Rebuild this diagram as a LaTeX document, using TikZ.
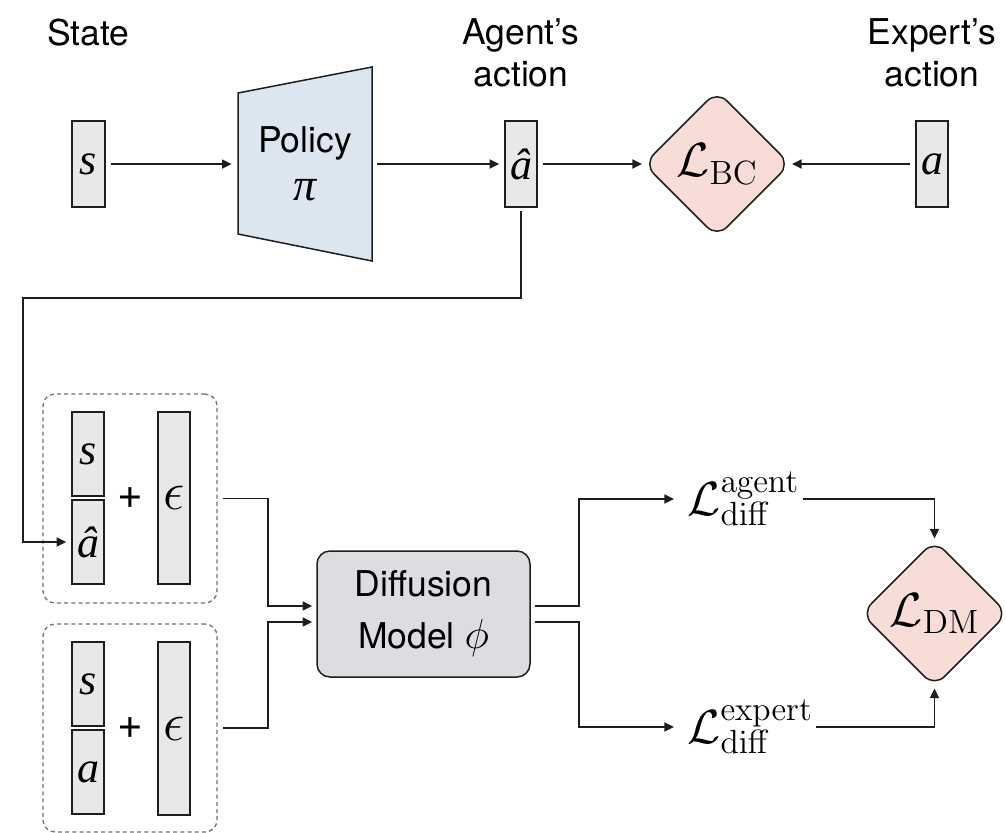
\documentclass[tikz,border=0pt]{standalone}
\usepackage{fix-cm}
\usepackage[no-math]{fontspec}
\newfontfamily\hv{TeX Gyre Heros}
\newfontfamily\tms{Liberation Serif}
\usetikzlibrary{shapes.geometric,arrows.meta,calc}
\definecolor{bd}{HTML}{1E1E1E}
\definecolor{boxfill}{HTML}{E8E8E8}
\definecolor{trapfill}{HTML}{DCE6F0}
\definecolor{diafill}{HTML}{F8DCD8}
\definecolor{dmfill}{HTML}{DCDDE0}
\definecolor{dashc}{HTML}{707070}
\begin{document}
\begin{tikzpicture}[x=0.5pt,y=-0.5pt,
  vec/.style={draw=bd, fill=boxfill, line width=0.75pt, inner sep=0pt, minimum width=16pt, font=\tms\itshape\fontsize{22}{26}\selectfont},
  lab/.style={font=\hv\fontsize{17.75}{21}\selectfont, align=center, inner sep=0pt},
  plussign/.style={font=\hv\fontsize{22}{26}\selectfont, inner sep=0pt},
  loss/.style={shape=diamond, draw=bd, fill=diafill, line width=0.75pt, rounded corners=7pt, minimum width=73.3pt, minimum height=73.3pt, inner sep=0pt, font=\fontsize{24}{28}\selectfont},
  grp/.style={draw=dashc, dash pattern=on 2pt off 1.6pt, line width=0.65pt, rounded corners=6pt, minimum width=87pt, inner sep=0pt},
  lossterm/.style={anchor=west, inner sep=0pt, font=\fontsize{24}{28}\selectfont},
  arr/.style={-{Triangle[length=4.8pt,width=4.5pt]}, line width=0.85pt, draw=bd, shorten <=2.5pt, shorten >=2.5pt}
]
\useasboundingbox (0,0) rectangle (1006,832);

% labels
\node[lab, anchor=base] (tstate) at (88.5,45) {State};
\node[lab] (tagent) at (521,53) {Agent’s\\action};
\node[lab] (texpert) at (932,53) {Expert’s\\action};

% top row
\node[vec, minimum height=43pt, minimum width=16.5pt] (s1) at (88.5,164) {s};
\coordinate (pc) at (305,164);
\draw[line width=0.75pt, draw=bd, fill=trapfill] ($(pc)+(-67,-71)$) -- ($(pc)+(67,-97)$) -- ($(pc)+(67,97)$) -- ($(pc)+(-67,70)$) -- cycle;
\node[font=\hv\fontsize{17.75}{24}\selectfont, align=center, minimum width=67pt, inner sep=0pt] (pol) at (pc) {Policy\\{\tms\itshape\fontsize{23}{24}\selectfont π}};
\node[vec, minimum height=43pt] (ahat) at (521,164) {â};
\node[loss] (lbc) at (717,164) {$\mathcal{L}_{\mathrm{BC}}$};
\node[vec, minimum height=43pt] (aexp) at (932,164) {a};

% group 1
\node[grp, minimum height=104.5pt] (g1) at (130,498.5) {};
\node[vec, minimum height=42pt] (s2) at (88,454) {s};
\node[vec, minimum height=42pt] (ah2) at (88,542) {â};
\node[plussign] (p1) at (130,498) {+};
\node[vec, minimum height=86pt, font=\fontsize{27}{30}\selectfont] (e1) at (174,498) {$\epsilon$};

% group 2
\node[grp, minimum height=104pt] (g2) at (130,728) {};
\node[vec, minimum height=42pt] (s3) at (88,684) {s};
\node[vec, minimum height=42pt] (a3) at (88,772) {a};
\node[plussign] (p2) at (130,728) {+};
\node[vec, minimum height=86.5pt, font=\fontsize{27}{30}\selectfont] (e2) at (174,728.5) {$\epsilon$};

% diffusion model
\node[draw=bd, fill=dmfill, line width=0.75pt, rounded corners=6.5pt, minimum width=106.5pt, minimum height=63pt, inner sep=0pt, align=center, font=\hv\fontsize{17.75}{26}\selectfont] (diff) at (423.5,614) {Diffusion\\Model {\fontsize{21}{26}\selectfont$\phi$}};

% losses
\node[lossterm] (lag) at (687,499) {$\mathcal{L}^{\mathrm{agent}}_{\mathrm{diff}}$};
\node[lossterm] (lex) at (687,727) {$\mathcal{L}^{\mathrm{expert}}_{\mathrm{diff}}$};
\node[loss] (ldm) at (934.5,613.5) {$\mathcal{L}_{\mathrm{DM}}$};

% connectors
\draw[arr, shorten >=3pt] (s1) -- (pol);
\draw[arr] (pol) -- (ahat);
\draw[arr, shorten >=0.5pt] (ahat) -- (lbc);
\draw[arr, shorten >=0.5pt] (aexp) -- (lbc);
\coordinate (k1) at (23,298);
\draw[arr, shorten <=1.5pt] (ahat.south) |- (k1) |- (ah2.west);
\draw[arr, shorten >=2pt] (g1.east) -- ++(50,0) |- ($(diff.west)+(0,-8)$);
\draw[arr, shorten >=2pt] (g2.east) -- ++(50,0) |- ($(diff.west)+(0,8)$);
\draw[arr, shorten <=2pt, shorten >=6.5pt] ($(diff.east)+(0,-8)$) -- ++(48,0) |- (lag.west);
\draw[arr, shorten <=2pt, shorten >=6.5pt] ($(diff.east)+(0,8)$) -- ++(48,0) |- (lex.west);
\draw[arr, shorten <=1.5pt, shorten >=0.5pt] (lag.east) -| (ldm.north);
\draw[arr, shorten <=1.5pt, shorten >=0.5pt] (lex.east) -| (ldm.south);
\end{tikzpicture}
\end{document}
